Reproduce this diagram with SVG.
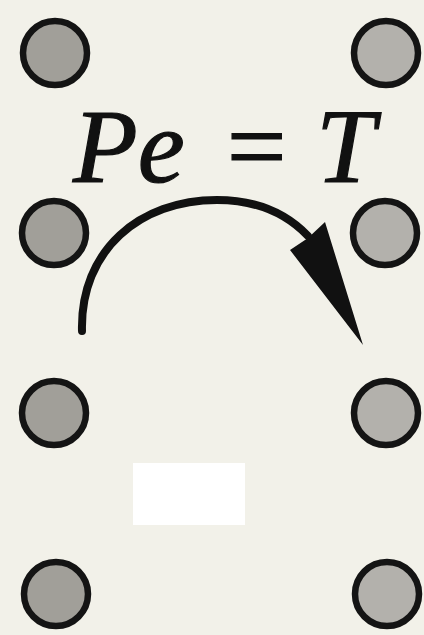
<svg xmlns="http://www.w3.org/2000/svg" width="424" height="635" viewBox="0 0 424 635">
<defs>
<style>
.dot{stroke:#141414;stroke-width:6.5}
.l{fill:#a19f99}
.r{fill:#b3b1ac}
</style>
</defs>
<rect width="424" height="635" fill="#f2f1e9"/>
<rect x="133" y="463" width="112" height="62" fill="#ffffff"/>
<g id="n1"><circle class="dot l" cx="55" cy="53" r="32"/></g>
<g id="n2"><circle class="dot l" cx="54" cy="233" r="32"/></g>
<g id="n3"><circle class="dot l" cx="54" cy="413" r="32"/></g>
<g id="n4"><circle class="dot l" cx="56" cy="594" r="32"/></g>
<g id="n5"><circle class="dot r" cx="386" cy="53" r="32"/></g>
<g id="n6"><circle class="dot r" cx="385" cy="233" r="32"/></g>
<g id="n7"><circle class="dot r" cx="386" cy="413" r="32"/></g>
<g id="n8"><circle class="dot r" cx="387" cy="594" r="32"/></g>
<g id="label"><text font-family="'Liberation Serif', 'Times New Roman', 'DejaVu Serif', serif" font-style="italic" font-size="106" fill="#111" stroke="#111" stroke-width="1.2" y="182"><tspan x="73">Pe</tspan><tspan x="220">=</tspan><tspan x="316">T</tspan></text></g>
<g id="connectors">
<path d="M82,331 C80,250 140,200 217,200 C255,200 285,212 308,236" fill="none" stroke="#111" stroke-width="8" stroke-linecap="round"/>
<polygon points="325,222 363,345 290,250 308,238" fill="#111"/>
</g>
</svg>
